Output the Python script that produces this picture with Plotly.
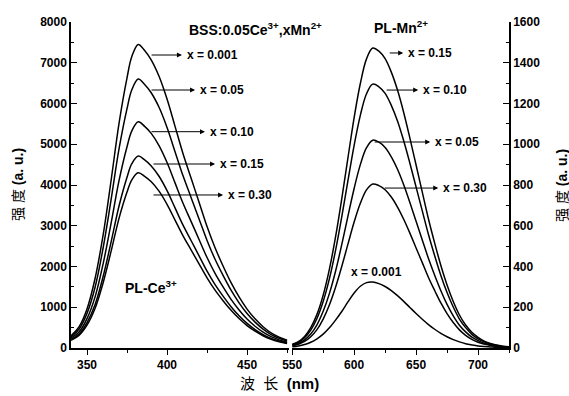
import plotly.graph_objects as go

# ---- Data: PL of Ce3+ (left panel, left axis) ----
wl_ce = [340, 345, 350, 355, 360, 365, 370, 375, 378, 382, 386, 390, 395, 400, 405, 410,
         415, 420, 425, 430, 435, 440, 445, 450, 455, 460, 465, 470, 475]
ce_x0001 = [300, 520, 960, 1700, 2757, 4098, 5513, 6631, 7152, 7450, 7301, 7078, 6668, 6109, 5439, 4768,
            4172, 3576, 2980, 2459, 2012, 1602, 1252, 954, 715, 522, 373, 268, 194]
ce_x005 = [270, 460, 850, 1485, 2442, 3630, 4884, 5874, 6336, 6600, 6468, 6270, 5907, 5412, 4818, 4224,
           3696, 3168, 2640, 2178, 1782, 1419, 1109, 845, 634, 462, 330, 238, 172]
ce_x010 = [240, 390, 720, 1249, 2054, 3053, 4107, 4940, 5328, 5550, 5439, 5273, 4967, 4551, 4052, 3552,
           3108, 2664, 2220, 1832, 1499, 1193, 932, 710, 533, 389, 278, 200, 144]
ce_x015 = [210, 340, 620, 1060, 1743, 2591, 3485, 4192, 4522, 4710, 4616, 4475, 4215, 3862, 3438, 3014,
           2638, 2261, 1884, 1554, 1272, 1013, 791, 603, 452, 330, 236, 170, 122]
ce_x030 = [190, 310, 560, 968, 1591, 2365, 3182, 3827, 4128, 4300, 4214, 4085, 3849, 3526, 3139, 2752,
           2408, 2064, 1720, 1419, 1161, 925, 722, 550, 413, 301, 215, 155, 112]

# ---- Data: PL of Mn2+ (right panel, right axis) ----
wl_mn = [550, 555, 560, 565, 570, 575, 580, 585, 590, 595, 600, 605, 610, 615, 620, 625, 630, 635,
         640, 645, 650, 655, 660, 665, 670, 675, 680, 685, 690, 695, 700, 705, 710, 715, 720, 725]
mn_x015 = [18, 31, 57, 100, 165, 259, 386, 545, 732, 933, 1131, 1298, 1419, 1472, 1457, 1420, 1354, 1266,
           1156, 1030, 898, 765, 633, 515, 405, 309, 228, 162, 113, 77, 52, 34, 22, 15, 9, 6]
mn_x010 = [16, 27, 50, 88, 145, 228, 339, 479, 644, 821, 995, 1142, 1248, 1295, 1282, 1250, 1191, 1114,
           1017, 907, 790, 673, 557, 453, 356, 272, 201, 142, 100, 67, 45, 30, 19, 13, 8, 5]
mn_x005 = [13, 22, 40, 69, 114, 180, 267, 377, 507, 647, 783, 900, 983, 1020, 1010, 984, 938, 877,
           801, 714, 622, 530, 439, 357, 281, 214, 158, 112, 79, 53, 36, 23, 15, 10, 6, 4]
mn_x030 = [11, 18, 32, 55, 90, 142, 211, 298, 400, 510, 618, 710, 776, 805, 797, 777, 741, 692,
           632, 564, 491, 419, 346, 282, 221, 169, 125, 89, 62, 42, 28, 19, 12, 8, 5, 3]
mn_x0001 = [6, 10, 17, 28, 45, 68, 99, 137, 179, 226, 270, 303, 321, 324, 316, 302, 282, 257,
            229, 199, 169, 141, 115, 92, 72, 55, 41, 30, 21, 15, 10, 7, 5, 3, 2, 1]

ce_series = [("x = 0.001", ce_x0001), ("x = 0.05", ce_x005), ("x = 0.10", ce_x010),
             ("x = 0.15", ce_x015), ("x = 0.30", ce_x030)]
mn_series = [("x = 0.15", mn_x015), ("x = 0.10", mn_x010), ("x = 0.05", mn_x005),
             ("x = 0.30", mn_x030), ("x = 0.001", mn_x0001)]

# arrow label positions (data coords): (label, tail_x, head_x, y)
ce_labels = [("x = 0.001", 389.4, 409.3, 7190), ("x = 0.05", 389.4, 417.5, 6331),
             ("x = 0.10", 389.4, 423.7, 5308), ("x = 0.15", 390.6, 430.0, 4515),
             ("x = 0.30", 390.6, 435.0, 3755)]
mn_labels = [("x = 0.15", 627.5, 639.6, 1448), ("x = 0.10", 625.0, 651.7, 1266),
             ("x = 0.05", 615.4, 661.4, 1011), ("x = 0.30", 623.5, 667.9, 785)]

FONT = "Liberation Sans, Arial, Noto Sans CJK SC"
fig = go.Figure()
for name, ys in ce_series:
    fig.add_trace(go.Scatter(x=wl_ce, y=ys, mode="lines", line=dict(color="black", width=1.5, shape="spline"),
                             xaxis="x", yaxis="y", name=name, showlegend=False))
for name, ys in mn_series:
    fig.add_trace(go.Scatter(x=wl_mn, y=ys, mode="lines", line=dict(color="black", width=1.5, shape="spline"),
                             xaxis="x2", yaxis="y2", name=name, showlegend=False))

tickfont = dict(family=FONT, size=12, color="black", weight="bold")
common_x = dict(showline=True, linecolor="black", linewidth=1.5, ticks="outside", ticklen=5,
                tickwidth=1.2, tickcolor="black", showgrid=False, zeroline=False, tickfont=tickfont,
                minor=dict(ticks="outside", ticklen=3, tickcolor="black", tickwidth=1.2))
common_y = dict(showline=True, linecolor="black", linewidth=1.5, ticks="inside", ticklen=6,
                tickwidth=1.2, tickcolor="black", showgrid=False, zeroline=False, tickfont=tickfont,
                minor=dict(ticks="inside", ticklen=3, tickcolor="black", tickwidth=1.2))

fig.update_layout(
    width=569, height=396,
    margin=dict(l=71, r=60, t=22, b=48),
    paper_bgcolor="white", plot_bgcolor="white",
    showlegend=False,
    xaxis=dict(domain=[0, 0.497], range=[340, 476], tickvals=[350, 400, 450], anchor="y", **common_x),
    xaxis2=dict(domain=[0.505, 1], range=[550, 725], tickvals=[550, 600, 650, 700], anchor="y2", **common_x),
    yaxis=dict(range=[0, 8000], dtick=1000, anchor="x", side="left", **common_y),
    yaxis2=dict(range=[0, 1600], dtick=200, anchor="x2", side="right", **common_y),
)
fig.layout.xaxis.minor.dtick = 25
fig.layout.xaxis2.minor.dtick = 25
fig.layout.yaxis.minor.dtick = 500
fig.layout.yaxis2.minor.dtick = 100

ann_font = dict(family=FONT, size=12, color="black", weight="bold")
for text, tx, hx, y in ce_labels:
    fig.add_annotation(x=hx, y=y, ax=tx, ay=y, xref="x", yref="y", axref="x", ayref="y", text="",
                       showarrow=True, arrowhead=2, arrowsize=1, arrowwidth=1, arrowcolor="black")
    fig.add_annotation(x=hx, y=y, xref="x", yref="y", text=text, showarrow=False, xanchor="left",
                       yanchor="middle", xshift=3, font=ann_font)
for text, tx, hx, y in mn_labels:
    fig.add_annotation(x=hx, y=y, ax=tx, ay=y, xref="x2", yref="y2", axref="x2", ayref="y2", text="",
                       showarrow=True, arrowhead=2, arrowsize=1, arrowwidth=1, arrowcolor="black")
    fig.add_annotation(x=hx, y=y, xref="x2", yref="y2", text=text, showarrow=False, xanchor="left",
                       yanchor="middle", xshift=3, font=ann_font)
fig.add_annotation(x=617.8, y=373, xref="x2", yref="y2", text="x = 0.001", showarrow=False,
                   xanchor="center", yanchor="middle", font=ann_font)

big_font = dict(family=FONT, size=14, color="black", weight="bold")
fig.add_annotation(x=0.265, y=0.98, xref="paper", yref="paper", xanchor="left", yanchor="middle",
                   text="BSS:0.05Ce<sup>3+</sup>,xMn<sup>2+</sup>", showarrow=False, font=big_font)
fig.add_annotation(x=0.687, y=0.985, xref="paper", yref="paper", xanchor="left", yanchor="middle",
                   text="PL-Mn<sup>2+</sup>", showarrow=False, font=big_font)
fig.add_annotation(x=0.119, y=0.187, xref="paper", yref="paper", xanchor="left", yanchor="middle",
                   text="PL-Ce<sup>3+</sup>", showarrow=False, font=big_font)

title_font = dict(family=FONT, size=14, color="black")
fig.add_annotation(x=-0.121, y=0.5, xref="paper", yref="paper", textangle=-90, showarrow=False,
                   xanchor="center", yanchor="middle", text="强 度 <b>(a. u.)</b>", font=title_font)
fig.add_annotation(x=1.121, y=0.5, xref="paper", yref="paper", textangle=-90, showarrow=False,
                   xanchor="center", yanchor="middle", text="强 度 <b>(a. u.)</b>", font=title_font)
fig.add_annotation(x=0.477, y=-0.11, xref="paper", yref="paper", showarrow=False,
                   xanchor="center", yanchor="middle", text="波&nbsp;&nbsp;长&nbsp;&nbsp;<b>(nm)</b>",
                   font=dict(family=FONT, size=15, color="black"))

fig.write_html("out.html", config={"displayModeBar": False},
               post_script="document.body.style.margin='0px';document.body.style.overflow='hidden';")
